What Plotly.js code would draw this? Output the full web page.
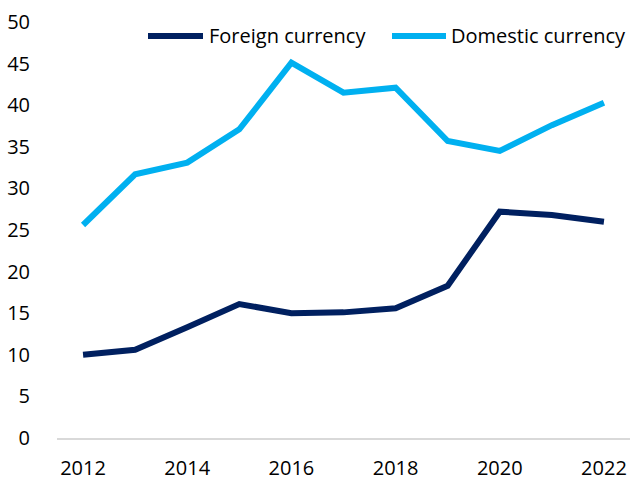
<!DOCTYPE html>
<html>
<head>
<meta charset="utf-8">
<script src="https://cdn.plot.ly/plotly-3.0.1.min.js"></script>
<style>
html,body{margin:0;padding:0;background:#fff;}
#chart{width:633px;height:479px;}
</style>
</head>
<body>
<div id="chart"></div>
<script>
var years = [2012, 2013, 2014, 2015, 2016, 2017, 2018, 2019, 2020, 2021, 2022];
var foreignName = "Foreign currency";
var domesticName = "Domestic currency";
var foreign = [10.0, 10.6, 13.3, 16.1, 15.0, 15.1, 15.6, 18.3, 27.2, 26.8, 26.0];
var domestic = [25.6, 31.7, 33.1, 37.1, 45.1, 41.5, 42.1, 35.7, 34.5, 37.6, 40.3];
var xTicks = [2012, 2014, 2016, 2018, 2020, 2022];
var yTicks = [0, 5, 10, 15, 20, 25, 30, 35, 40, 45, 50];

var navy = "#002060";
var sky = "#00B0F0";
var fontFam = "Open Sans, Noto Sans, sans-serif";

var traces = [
  {x: years, y: foreign, name: foreignName, type: "scatter", mode: "lines",
   line: {color: navy, width: 6}, showlegend: false, hoverinfo: "skip"},
  {x: years, y: domestic, name: domesticName, type: "scatter", mode: "lines",
   line: {color: sky, width: 6}, showlegend: false, hoverinfo: "skip"}
];

var W = 633, H = 479, L = 57, R = 3, T = 22, B = 41;
function px(x){ return (x - L) / (W - L - R); }
function py(y){ return (H - B - y) / (H - T - B); }

var legendItems = [
  {name: foreignName, color: navy, x0: 148, x1: 203, tx: 207},
  {name: domesticName, color: sky, x0: 392, x1: 446, tx: 449}
];
var shapes = [], annotations = [];
legendItems.forEach(function(it){
  shapes.push({type: "line", xref: "paper", yref: "paper",
    x0: px(it.x0), x1: px(it.x1), y0: py(36), y1: py(36),
    line: {color: it.color, width: 6}});
  annotations.push({xref: "paper", yref: "paper", x: px(it.tx), y: py(35),
    xanchor: "left", yanchor: "middle", showarrow: false, text: it.name,
    font: {family: fontFam, size: 20, color: "#000"}});
});

var layout = {
  width: W, height: H,
  margin: {l: L, r: R, t: T, b: B, pad: 0},
  paper_bgcolor: "#fff", plot_bgcolor: "#fff",
  font: {family: fontFam, size: 20, color: "#000"},
  xaxis: {range: [2011.5, 2022.5], tickvals: xTicks, ticktext: xTicks.map(String),
    showgrid: false, zeroline: false, showline: true, linecolor: "#d9d9d9", linewidth: 1.5,
    ticks: "outside", ticklen: 11, tickcolor: "rgba(0,0,0,0)",
    tickfont: {family: fontFam, size: 20, color: "#000"}, fixedrange: true},
  yaxis: {range: [0, 50], tickvals: yTicks, ticktext: yTicks.map(String),
    showgrid: false, zeroline: false, showline: false,
    ticks: "outside", ticklen: 22, tickcolor: "rgba(0,0,0,0)",
    tickfont: {family: fontFam, size: 20, color: "#000"}, fixedrange: true},
  shapes: shapes,
  annotations: annotations,
  showlegend: false
};

Plotly.newPlot("chart", traces, layout, {displayModeBar: false, staticPlot: true});
</script>
</body>
</html>
